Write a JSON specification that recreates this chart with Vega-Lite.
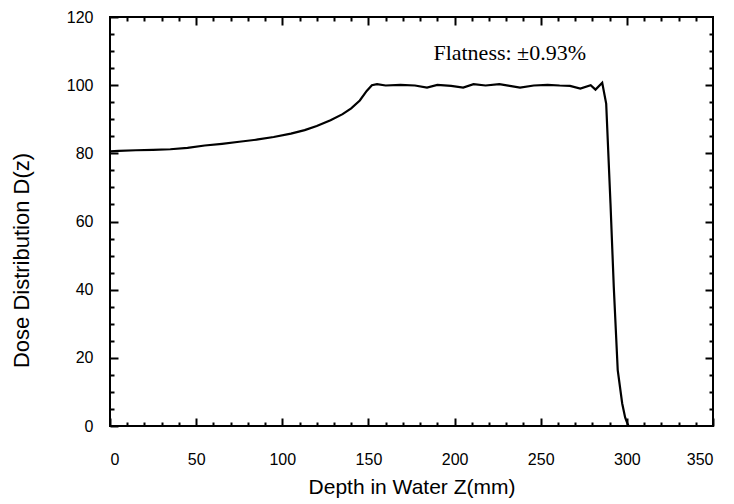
{
  "$schema": "https://vega.github.io/schema/vega-lite/v6.json",
  "width": 603,
  "height": 409,
  "autosize": "none",
  "padding": {"left": 110, "top": 17, "right": 21, "bottom": 78},
  "background": "white",
  "config": {
    "view": {"stroke": "black", "strokeWidth": 2},
    "axis": {"domain": false, "grid": false, "tickColor": "black", "tickWidth": 2, "labelColor": "black", "titleColor": "black", "labelFont": "Liberation Sans", "titleFont": "Liberation Sans", "labelFontSize": 16, "titleFontSize": 21, "titleFontWeight": "normal"}
  },
  "datasets": {
    "curve": [
      {"z": 0, "d": 80.6}, {"z": 5, "d": 80.7}, {"z": 15, "d": 80.9}, {"z": 25, "d": 81.0},
      {"z": 35, "d": 81.2}, {"z": 45, "d": 81.6}, {"z": 55, "d": 82.3}, {"z": 65, "d": 82.8},
      {"z": 75, "d": 83.4}, {"z": 85, "d": 84.0}, {"z": 95, "d": 84.8}, {"z": 105, "d": 85.8},
      {"z": 113, "d": 86.8}, {"z": 120, "d": 88.0}, {"z": 128, "d": 89.7}, {"z": 135, "d": 91.5},
      {"z": 140, "d": 93.2}, {"z": 145, "d": 95.5}, {"z": 149, "d": 98.3}, {"z": 152, "d": 100.0},
      {"z": 155, "d": 100.3}, {"z": 160, "d": 99.9}, {"z": 168.6, "d": 100.1}, {"z": 177, "d": 99.9},
      {"z": 184, "d": 99.3}, {"z": 190, "d": 100.1}, {"z": 198, "d": 99.8}, {"z": 205, "d": 99.3},
      {"z": 211, "d": 100.3}, {"z": 218, "d": 99.9}, {"z": 226, "d": 100.3}, {"z": 232, "d": 99.8},
      {"z": 238, "d": 99.3}, {"z": 246, "d": 99.9}, {"z": 254, "d": 100.1}, {"z": 261, "d": 99.9},
      {"z": 267, "d": 99.8}, {"z": 273, "d": 99.0}, {"z": 279, "d": 100.0}, {"z": 281.8, "d": 98.7},
      {"z": 285.7, "d": 100.7}, {"z": 288, "d": 94.6}, {"z": 290.5, "d": 65.3}, {"z": 292.4, "d": 40.9},
      {"z": 294.7, "d": 16.4}, {"z": 297.3, "d": 6.6}, {"z": 299, "d": 2.5}, {"z": 300.5, "d": 0.5},
      {"z": 301, "d": 0}
    ],
    "note": [{"z": 232, "d": 109.4, "label": "Flatness: ±0.93%"}]
  },
  "layer": [
    {
      "data": {"name": "curve"},
      "mark": {"type": "line", "color": "black", "strokeWidth": 2.2, "clip": true},
      "encoding": {
        "x": {"field": "z", "type": "quantitative", "scale": {"domain": [0, 350], "nice": false, "zero": false},
          "axis": {"orient": "bottom", "values": [0, 50, 100, 150, 200, 250, 300, 350], "tickSize": -8, "labelPadding": 33, "labelBaseline": "top", "title": "Depth in Water Z(mm)", "titleBaseline": "middle", "titleY": 61}},
        "y": {"field": "d", "type": "quantitative", "scale": {"domain": [0, 120], "nice": false, "zero": false},
          "axis": {"orient": "left", "values": [0, 20, 40, 60, 80, 100, 120], "tickSize": -8, "labelPadding": 25, "title": "Dose Distribution D(z)", "titleFontSize": 22, "titleBaseline": "middle", "titleX": -89, "titleY": 243}}
      }
    },
    {
      "data": {"name": "curve"},
      "mark": {"type": "line", "opacity": 0},
      "encoding": {
        "x": {"field": "z", "type": "quantitative", "axis": {"orient": "bottom", "values": [10,20,30,40,60,70,80,90,110,120,130,140,160,170,180,190,210,220,230,240,260,270,280,290,310,320,330,340], "tickSize": -4, "labels": false, "title": null}},
        "y": {"field": "d", "type": "quantitative", "axis": {"orient": "left", "values": [5,10,15,25,30,35,45,50,55,65,70,75,85,90,95,105,110,115], "tickSize": -4, "labels": false, "title": null}}
      }
    },
    {
      "data": {"name": "curve"},
      "mark": {"type": "line", "opacity": 0},
      "encoding": {
        "x": {"field": "z", "type": "quantitative", "axis": {"orient": "top", "values": [50, 100, 150, 200, 250, 300], "tickSize": -8, "labels": false, "title": null}},
        "y": {"field": "d", "type": "quantitative", "axis": {"orient": "right", "values": [20, 40, 60, 80, 100], "tickSize": -8, "labels": false, "title": null}}
      }
    },
    {
      "data": {"name": "curve"},
      "mark": {"type": "line", "opacity": 0},
      "encoding": {
        "x": {"field": "z", "type": "quantitative", "axis": {"orient": "top", "values": [10,20,30,40,60,70,80,90,110,120,130,140,160,170,180,190,210,220,230,240,260,270,280,290,310,320,330,340], "tickSize": -4, "labels": false, "title": null}},
        "y": {"field": "d", "type": "quantitative", "axis": {"orient": "right", "values": [5,10,15,25,30,35,45,50,55,65,70,75,85,90,95,105,110,115], "tickSize": -4, "labels": false, "title": null}}
      }
    },
    {
      "data": {"name": "note"},
      "mark": {"type": "text", "font": "Liberation Serif", "fontSize": 22, "color": "black", "align": "center", "baseline": "middle"},
      "encoding": {
        "x": {"field": "z", "type": "quantitative", "axis": null},
        "y": {"field": "d", "type": "quantitative", "axis": null},
        "text": {"field": "label"}
      }
    }
  ],
  "resolve": {"axis": {"x": "independent", "y": "independent"}}
}
